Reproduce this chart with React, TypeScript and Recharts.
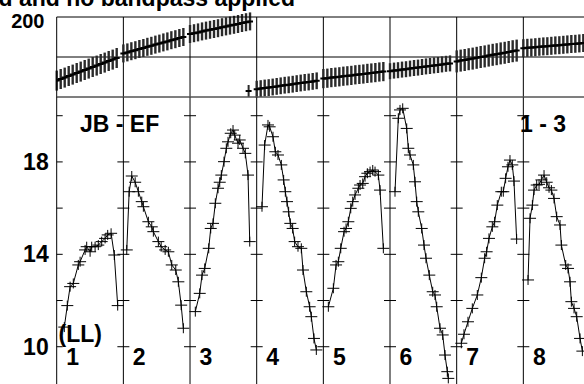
import { ComposedChart, Line, XAxis, YAxis, ReferenceLine, ErrorBar } from "recharts";

const FONT = '"Liberation Sans", Arial, Helvetica, sans-serif';

// channel axis: every IF panel is 100/3 channel units wide
const PANEL = 100 / 3;

// amplitude, one pair of arrays per IF
const if1Ch = [3.8, 5.3, 6.7, 8.3, 10.8, 11.7, 14.2, 15.0, 16.7, 17.5, 19.2, 20.8, 22.5, 24.2, 25.5, 27.2, 28.8, 30.5];
const if1Amp = [10.85, 11.78, 12.6, 12.74, 13.54, 13.68, 14.19, 14.33, 14.11, 14.33, 14.33, 14.4, 14.55, 14.69, 14.84, 14.91, 13.97, 11.78];

const if2Ch = [1.7, 2.9, 4.2, 5.9, 7.5, 9.2, 10.0, 12.5, 14.2, 15.0, 17.5, 18.9, 20.9, 22.5, 24.2, 26.2, 27.5, 28.9, 30.0];
const if2Amp = [14.19, 16.71, 17.39, 17.12, 16.71, 16.28, 16.06, 15.41, 15.19, 14.98, 14.55, 14.33, 14.19, 14.11, 13.54, 13.32, 12.81, 11.8, 10.8];

const if3Ch = [2.65, 4.85, 6.0, 7.35, 9.35, 10.35, 11.5, 12.65, 14.0, 14.85, 15.65, 17.0, 18.15, 19.0, 20.35, 21.5, 22.35, 24.0, 24.85, 26.5, 27.65, 29.0, 29.85];
const if3Amp = [11.52, 12.31, 13.1, 13.39, 14.26, 15.12, 15.34, 16.21, 16.86, 17.12, 17.43, 18.01, 18.59, 18.87, 19.24, 19.38, 19.16, 18.81, 18.95, 18.59, 18.37, 17.43, 14.55];

const if4Ch = [2.65, 3.98, 5.65, 6.48, 8.15, 9.32, 10.65, 12.32, 13.48, 14.32, 15.15, 15.98, 16.82, 17.98, 18.98, 20.65, 22.32, 23.15, 24.82, 26.48, 27.32, 28.65, 29.82];
const if4Amp = [16.06, 18.73, 19.6, 19.52, 19.09, 18.44, 18.3, 17.87, 17.22, 16.71, 16.28, 15.84, 15.34, 15.12, 14.55, 14.33, 14.26, 13.32, 12.38, 11.73, 11.3, 10.36, 9.86];

const if5Ch = [2.5, 5.0, 6.35, 7.5, 8.7, 10.35, 11.35, 12.5, 13.7, 14.7, 15.85, 17.5, 18.35, 19.7, 20.85, 22.0, 23.35, 24.7, 25.85, 27.5, 28.35, 30.0];
const if5Amp = [11.73, 12.53, 13.54, 13.68, 14.26, 14.98, 15.12, 15.41, 15.99, 16.28, 16.57, 16.86, 17.0, 17.07, 17.36, 17.51, 17.58, 17.65, 17.58, 17.43, 16.78, 14.26];

const if6Ch = [2.5, 4.15, 5.0, 6.35, 8.35, 9.15, 10.0, 11.65, 12.5, 13.35, 14.15, 15.85, 17.0, 18.0, 19.65, 21.35, 22.5, 23.35, 25.0, 26.35, 27.5, 28.65, 29.15];
const if6Amp = [16.71, 19.89, 20.25, 20.32, 19.45, 18.59, 18.3, 17.87, 17.14, 16.28, 15.84, 15.12, 14.4, 13.83, 13.1, 12.38, 12.24, 11.73, 10.8, 10.51, 9.64, 8.92, 8.63];

const if7Ch = [2.32, 3.65, 5.65, 7.82, 10.32, 12.32, 13.98, 14.98, 16.15, 17.82, 18.98, 20.32, 22.32, 23.32, 24.48, 25.65, 26.65, 27.82, 28.65, 29.98];
const if7Amp = [10.15, 10.54, 11.08, 11.66, 12.24, 12.99, 13.83, 14.11, 14.69, 15.19, 15.41, 16.13, 16.71, 16.71, 17.29, 17.79, 18.08, 17.87, 17.17, 14.66];

const if8Ch = [2.35, 3.35, 4.52, 5.35, 6.68, 7.85, 9.02, 10.35, 11.68, 12.85, 14.02, 15.35, 16.68, 18.35, 19.02, 21.18, 22.35, 23.35, 24.02, 25.35, 26.68, 28.35, 29.52];
const if8Amp = [12.89, 15.56, 16.13, 16.78, 17.0, 17.03, 17.22, 17.43, 17.12, 16.88, 16.78, 16.42, 15.63, 15.27, 14.4, 13.54, 13.39, 12.81, 11.95, 11.66, 11.3, 10.36, 9.81];

// phase (degrees)
const phaseCh = [0, 2, 4, 6, 8, 10, 12, 14, 16, 18, 20, 22, 24, 26, 28, 30];
const if1Phase = [-118, -110, -103, -95, -88, -80, -73, -65, -58, -50, -43, -35, -28, -20, -13, -5];
const if2Phase = [18, 23, 29, 34, 40, 45, 51, 56, 62, 67, 73, 78, 84, 89, 95, 100];
const if3Phase = [115, 119, 123, 128, 132, 136, 140, 144, 149, 153, 157, 161, 165, 170, 174, 178];
const if4Phase = [-161, -158, -155, -153, -150, -147, -144, -141, -139, -136, -133, -130, -127, -125, -122, -119];
const if5Phase = [-108, -106, -103, -101, -99, -96, -94, -92, -89, -87, -85, -82, -80, -78, -75, -73];
const if6Phase = [-71, -68, -66, -63, -61, -58, -55, -53, -50, -47, -45, -42, -40, -37, -34, -32];
const if7Phase = [-22, -18, -15, -11, -8, -4, 0, 3, 7, 11, 14, 18, 21, 25, 29, 32];
const if8Phase = [44, 46, 47, 49, 51, 53, 54, 56, 58, 59, 61, 63, 65, 66, 68, 70];
const phaseErr = [50, 45, 45, 42, 48, 40, 55, 45];
// one wrapped channel at the end of IF 3
const wrapCh = [29.3];
const wrapPhase = [-170];
const wrapErr = [30];

const panelLabels = ["1", "2", "3", "4", "5", "6", "7", "8"];
const ampLabelTicks = [10, 14, 18];
const ampMarkTicks = [10, 12, 14, 16, 18, 20];
const phaseLabelTicks = [-200, 200];
const chanTicks = [10, 20, 30];

const ampChannels = [if1Ch, if2Ch, if3Ch, if4Ch, if5Ch, if6Ch, if7Ch, if8Ch];
const ampValues = [if1Amp, if2Amp, if3Amp, if4Amp, if5Amp, if6Amp, if7Amp, if8Amp];
const phaseValues = [if1Phase, if2Phase, if3Phase, if4Phase, if5Phase, if6Phase, if7Phase, if8Phase];

const ampSeries = ampChannels.map((chs, p) =>
  chs.map((c, i) => ({ x: p * PANEL + c, y: ampValues[p][i] }))
);
const phaseSeries = phaseValues.map((vals, p) =>
  vals.map((v, i) => ({ x: p * PANEL + phaseCh[i], y: v, e: phaseErr[p] }))
);
const wrapSeries = wrapCh.map((c, i) => ({ x: 2 * PANEL + c, y: wrapPhase[i], e: wrapErr[i] }));

const xDomain = [0, 8 * PANEL];
const xTicks = panelLabels.flatMap((_, p) => chanTicks.map((t) => p * PANEL + t));
const dividers = [1, 2, 3, 4, 5, 6, 7, 8];

const AmpCross = (props: any) => {
  const { cx, cy } = props;
  if (cx == null || cy == null) return null;
  return (
    <g stroke="#000" strokeWidth={1}>
      <line x1={cx - 6} y1={cy} x2={cx + 6} y2={cy} />
      <line x1={cx} y1={cy - 5} x2={cx} y2={cy + 5} />
    </g>
  );
};

const PhaseMark = (props: any) => {
  const { cx, cy } = props;
  if (cx == null || cy == null) return null;
  return <line x1={cx - 3} y1={cy} x2={cx + 3} y2={cy} stroke="#000" strokeWidth={2} />;
};

const PhaseTick = (props: any) => {
  const { y, payload } = props;
  const top = payload.value > 0;
  return (
    <text
      x={top ? 44.5 : 49.5}
      y={y + (top ? 3.5 : 1.5)}
      dy="0.355em"
      textAnchor="end"
      fontSize={top ? 20 : 23}
      fontWeight="bold"
      fontFamily={FONT}
      fill="#000"
    >
      {payload.value}
    </text>
  );
};

const labelStyle = { fontSize: 23, fontWeight: "bold" as const, fontFamily: FONT, fill: "#000" };

export default function App() {
  return (
    <div style={{ position: "absolute", left: 0, top: 0, width: 584, height: 384, overflow: "hidden", background: "#fff" }}>
      {/* phase panel */}
      <div style={{ position: "absolute", left: 0, top: 0 }}>
        <ComposedChart width={600} height={100} margin={{ top: 17, right: 10, bottom: 3, left: 0 }}>
          <XAxis xAxisId="t" type="number" dataKey="x" domain={xDomain} ticks={xTicks} orientation="top" mirror tick={false} tickSize={5} stroke="#000" allowDataOverflow />
          <XAxis xAxisId="b" type="number" dataKey="x" domain={xDomain} ticks={xTicks} orientation="bottom" mirror tick={false} tickSize={5} stroke="#555" allowDataOverflow />
          <YAxis yAxisId="p" type="number" domain={[-200, 200]} ticks={phaseLabelTicks} width={56.7} tickLine={false} tick={PhaseTick} stroke="#000" allowDataOverflow />
          <ReferenceLine xAxisId="b" yAxisId="p" y={0} stroke="#000" />
          {dividers.map((p) => (
            <ReferenceLine key={p} xAxisId="b" yAxisId="p" x={p * PANEL} stroke="#000" />
          ))}
          {phaseSeries.map((d, p) => (
            <Line key={p} data={d} xAxisId="b" yAxisId="p" dataKey="y" stroke="#000" strokeWidth={2} dot={PhaseMark} isAnimationActive={false}>
              <ErrorBar dataKey="e" width={0} stroke="#2a2a2a" strokeWidth={2.4} direction="y" isAnimationActive={false} />
            </Line>
          ))}
          <Line data={wrapSeries} xAxisId="b" yAxisId="p" dataKey="y" stroke="none" dot={PhaseMark} isAnimationActive={false}>
            <ErrorBar dataKey="e" width={0} stroke="#2a2a2a" strokeWidth={2} direction="y" isAnimationActive={false} />
          </Line>
        </ComposedChart>
      </div>

      {/* amplitude panel */}
      <div style={{ position: "absolute", left: 0, top: 90 }}>
        <ComposedChart width={600} height={310} margin={{ top: 7, right: 10, bottom: 14, left: 0 }}>
          <XAxis xAxisId="t" type="number" dataKey="x" domain={xDomain} ticks={xTicks} orientation="top" mirror tick={false} tickSize={5} stroke="#555" allowDataOverflow />
          <XAxis xAxisId="b" type="number" dataKey="x" domain={xDomain} ticks={xTicks} orientation="bottom" mirror tick={false} tickSize={5} stroke="#000" allowDataOverflow />
          <YAxis
            yAxisId="a"
            type="number"
            domain={[8.3, 20.81]}
            ticks={ampLabelTicks}
            width={56.7}
            tickLine={false}
            tick={labelStyle}
            stroke="#000"
            allowDataOverflow
          />
          {dividers.map((p) => (
            <ReferenceLine key={p} xAxisId="b" yAxisId="a" x={p * PANEL} stroke="#000" />
          ))}
          {[0, ...dividers].flatMap((p) =>
            ampMarkTicks.map((v) => (
              <ReferenceLine
                key={`${p}-${v}`}
                xAxisId="b"
                yAxisId="a"
                segment={[
                  { x: Math.max(0, p * PANEL - 3), y: v },
                  { x: p * PANEL + 3, y: v },
                ]}
                stroke="#000"
              />
            ))
          )}
          {ampSeries.map((d, p) => (
            <Line key={p} data={d} xAxisId="b" yAxisId="a" dataKey="y" stroke="#000" strokeWidth={1} dot={AmpCross} isAnimationActive={false} />
          ))}
        </ComposedChart>
      </div>

      {/* text */}
      <svg width={584} height={384} style={{ position: "absolute", left: 0, top: 0, pointerEvents: "none" }}>
        <text x={295} y={6} textAnchor="end" {...labelStyle}>d and no bandpass applied</text>
        <text x={80} y={131.5} {...labelStyle}>JB - EF</text>
        <text x={520} y={131.5} {...labelStyle}>1 - 3</text>
        <text x={58.5} y={341.5} {...labelStyle}>(LL)</text>
        {panelLabels.map((t, p) => (
          <text key={t} x={56.7 + p * 66.67 + 9.5} y={365} {...labelStyle}>{t}</text>
        ))}
      </svg>
    </div>
  );
}
